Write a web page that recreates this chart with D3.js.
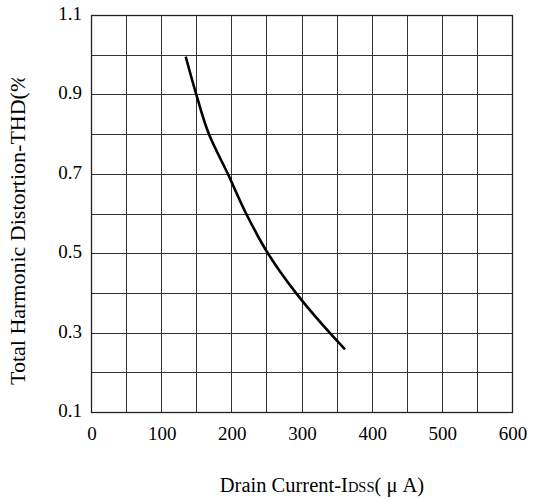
<!DOCTYPE html>
<html><head><meta charset="utf-8">
<script src="https://cdn.jsdelivr.net/npm/d3@7"></script>
<style>body{margin:0;background:#fff}svg{display:block}</style>
</head><body><div id="c"></div>
<script>
const curveX = [135, 150, 168, 195, 221, 252, 292, 340, 362];
const curveY = [0.995, 0.9, 0.8, 0.7, 0.6, 0.5, 0.4, 0.3, 0.258];
const xTicks = [0, 100, 200, 300, 400, 500, 600];
const yTicks = [0.1, 0.3, 0.5, 0.7, 0.9, 1.1];
const xGrid = d3.range(0, 601, 50);
const yGrid = d3.range(1, 12).map(d => d / 10);

const W = 533, H = 499;
const FONT = "'Liberation Serif','Times New Roman',serif";
const m = {l: 91, r: 21, t: 15, b: 87};
const svg = d3.select("#c").append("svg").attr("width", W).attr("height", H)
  .attr("font-family", FONT);
const x = d3.scaleLinear().domain([0, 600]).range([m.l, W - m.r]);
const y = d3.scaleLinear().domain([0.1, 1.1]).range([H - m.b, m.t]);

const g = svg.append("g");
g.selectAll(".vg").data(xGrid).join("line")
  .attr("x1", d => Math.round(x(d)) + 0.5).attr("x2", d => Math.round(x(d)) + 0.5)
  .attr("y1", y(0.1)).attr("y2", y(1.1)).attr("stroke", "#333").attr("stroke-width", 1);
g.selectAll(".hg").data(yGrid).join("line")
  .attr("y1", d => Math.round(y(d)) + 0.5).attr("y2", d => Math.round(y(d)) + 0.5)
  .attr("x1", x(0)).attr("x2", x(600)).attr("stroke", "#333").attr("stroke-width", 1);
g.append("rect").attr("x", Math.round(x(0)) + 0.5).attr("y", Math.round(y(1.1)) + 0.5)
  .attr("width", Math.round(x(600)) - Math.round(x(0))).attr("height", Math.round(y(0.1)) - Math.round(y(1.1)))
  .attr("fill", "none").attr("stroke", "#222").attr("stroke-width", 1.3);

const pts = curveX.map((v, i) => [v, curveY[i]]);
svg.append("path").datum(pts)
  .attr("d", d3.line().x(d => x(d[0])).y(d => y(d[1])).curve(d3.curveMonotoneY))
  .attr("fill", "none").attr("stroke", "#000").attr("stroke-width", 2.6);

svg.selectAll(".xt").data(xTicks).join("text")
  .attr("x", d => x(d) + 1).attr("y", y(0.1) + 28)
  .attr("text-anchor", "middle").attr("font-size", 19).attr("fill", "#000").text(d => d);
svg.selectAll(".yt").data(yTicks).join("text")
  .attr("x", x(0) - 9).attr("y", d => y(d) - 1).attr("dy", "0.32em")
  .attr("text-anchor", "end").attr("font-size", 19).attr("fill", "#000").text(d => d.toFixed(1));

const xt = svg.append("text").attr("x", 322).attr("y", 492)
  .attr("text-anchor", "middle").attr("font-size", 20.5).attr("fill", "#000");
xt.append("tspan").text("Drain Current-I");
xt.append("tspan").attr("font-size", 14.5).text("DSS");
xt.append("tspan").text("( μ A)");

svg.append("clipPath").attr("id", "yc").append("rect")
  .attr("x", 0).attr("y", 78).attr("width", 40).attr("height", 420);
svg.append("g").attr("clip-path", "url(#yc)").append("text")
  .attr("transform", "translate(25,385) rotate(-90)")
  .attr("text-anchor", "start").attr("font-size", 22).attr("fill", "#000")
  .text("Total Harmonic Distortion-THD(%)");
</script></body></html>
